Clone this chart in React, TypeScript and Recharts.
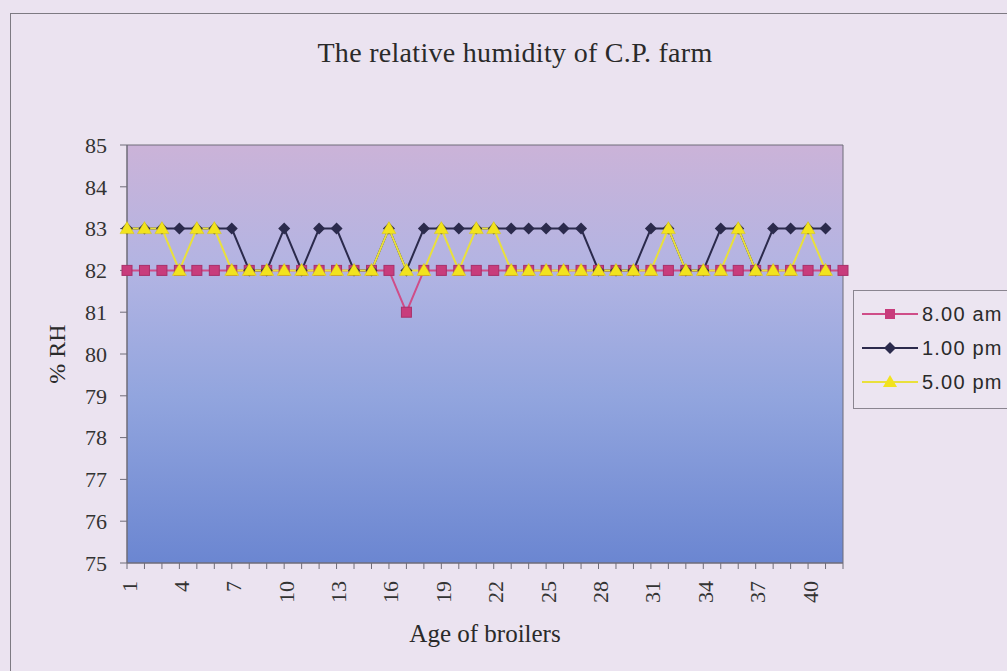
import { LineChart, Line, XAxis, YAxis, ReferenceArea, Legend, Label } from 'recharts'

// Age of broilers (days)
const days = [
  1, 2, 3, 4, 5, 6, 7, 8, 9, 10, 11, 12, 13, 14, 15, 16, 17, 18, 19, 20, 21,
  22, 23, 24, 25, 26, 27, 28, 29, 30, 31, 32, 33, 34, 35, 36, 37, 38, 39, 40, 41, 42,
]

// % RH readings
const am8 = [
  82, 82, 82, 82, 82, 82, 82, 82, 82, 82, 82, 82, 82, 82, 82, 82, 81, 82, 82, 82, 82,
  82, 82, 82, 82, 82, 82, 82, 82, 82, 82, 82, 82, 82, 82, 82, 82, 82, 82, 82, 82, 82,
]
const pm1 = [
  83, 83, 83, 83, 83, 83, 83, 82, 82, 83, 82, 83, 83, 82, 82, 83, 82, 83, 83, 83, 83,
  83, 83, 83, 83, 83, 83, 82, 82, 82, 83, 83, 82, 82, 83, 83, 82, 83, 83, 83, 83, null,
]
const pm5 = [
  83, 83, 83, 82, 83, 83, 82, 82, 82, 82, 82, 82, 82, 82, 82, 83, 82, 82, 83, 82, 83,
  83, 82, 82, 82, 82, 82, 82, 82, 82, 82, 83, 82, 82, 82, 83, 82, 82, 82, 83, 82, null,
]

const yTicks = [75, 76, 77, 78, 79, 80, 81, 82, 83, 84, 85]

const chartData = days.map((d, i) => ({ day: d, am8: am8[i], pm1: pm1[i], pm5: pm5[i] }))

const SERIF = '"Liberation Serif", "Times New Roman", serif'
const SANS = '"Liberation Sans", Arial, sans-serif'

const COLORS = {
  am8: '#c83c7c',
  am8Line: '#cf4d88',
  pm1: '#2b2a4c',
  pm5: '#f2e31e',
  pm5Line: '#e9e03c',
}

const SquareDot = (props: any) => {
  const { cx, cy, index } = props
  if (cx == null || cy == null) return <g key={`sq-${index}`} />
  return (
    <rect key={`sq-${index}`} x={cx - 5} y={cy - 5} width={10} height={10} fill={COLORS.am8} stroke="#a8306a" strokeWidth={1} />
  )
}

const DiamondDot = (props: any) => {
  const { cx, cy, index } = props
  if (cx == null || cy == null) return <g key={`di-${index}`} />
  return (
    <polygon
      key={`di-${index}`}
      points={`${cx},${cy - 6} ${cx + 6},${cy} ${cx},${cy + 6} ${cx - 6},${cy}`}
      fill={COLORS.pm1}
    />
  )
}

const TriangleDot = (props: any) => {
  const { cx, cy, index } = props
  if (cx == null || cy == null) return <g key={`tr-${index}`} />
  return (
    <polygon
      key={`tr-${index}`}
      points={`${cx},${cy - 7} ${cx + 7},${cy + 5} ${cx - 7},${cy + 5}`}
      fill={COLORS.pm5}
      stroke="#d4c410"
      strokeWidth={0.5}
    />
  )
}

const XTick = (props: any) => {
  const { x, y, payload, index } = props
  if (index % 3 !== 0) return <g />
  return (
    <text
      transform={`translate(${x + 2}, ${y + 10}) rotate(-90)`}
      textAnchor="end"
      dominantBaseline="central"
      fontFamily={SERIF}
      fontSize={22}
      fill="#333"
    >
      {payload.value}
    </text>
  )
}

const legendItems = [
  { label: '8.00 am', color: COLORS.am8Line, marker: 'square' },
  { label: '1.00 pm', color: COLORS.pm1, marker: 'diamond' },
  { label: '5.00 pm', color: COLORS.pm5Line, marker: 'triangle' },
]

const CustomLegend = () => (
  <div
    style={{
      border: '1px solid #8a8590',
      background: '#ece5f1',
      padding: '6px 0 0 0',
      height: 119,
      boxSizing: 'border-box',
    }}
  >
    {legendItems.map((item) => (
      <div key={item.label} style={{ display: 'flex', alignItems: 'center', height: 34 }}>
        <svg width={68} height={20} style={{ display: 'block' }}>
          <line x1={8} y1={10} x2={64} y2={10} stroke={item.color} strokeWidth={2} />
          {item.marker === 'square' && <rect x={31} y={5} width={10} height={10} fill={COLORS.am8} />}
          {item.marker === 'diamond' && <polygon points="36,4 42,10 36,16 30,10" fill={COLORS.pm1} />}
          {item.marker === 'triangle' && <polygon points="36,3 43,15 29,15" fill={COLORS.pm5} />}
        </svg>
        <span style={{ fontFamily: SANS, fontSize: 20, letterSpacing: 1.2, color: '#2a2a2a' }}>{item.label}</span>
      </div>
    ))}
  </div>
)

export default function App() {
  return (
    <div
      style={{
        position: 'absolute',
        left: 0,
        top: 0,
        width: 1007,
        height: 671,
        overflow: 'hidden',
        background: '#ebe3f0',
      }}
    >
      <div
        style={{
          position: 'absolute',
          left: 10,
          top: 13,
          width: 1100,
          height: 800,
          border: '1px solid #7d7a82',
        }}
      />
      <div
        style={{
          position: 'absolute',
          left: 0,
          top: 38,
          width: 1030,
          textAlign: 'center',
          fontFamily: SERIF,
          fontSize: 28,
          letterSpacing: 0.3,
          lineHeight: '30px',
          color: '#2a2a2a',
        }}
      >
        The relative humidity of C.P. farm
      </div>
      <div style={{ position: 'absolute', left: 0, top: 0 }}>
        <LineChart
          width={1007}
          height={671}
          data={chartData}
          margin={{ top: 145, right: 164, bottom: 0, left: 0 }}
        >
          <defs>
            <linearGradient id="plotBg" x1="0" y1="0" x2="0" y2="1">
              <stop offset="0%" stopColor="#cbb3d8" />
              <stop offset="30%" stopColor="#b2b4e3" />
              <stop offset="60%" stopColor="#92a5de" />
              <stop offset="100%" stopColor="#6b86d1" />
            </linearGradient>
          </defs>
          <ReferenceArea x1={1} x2={42} y1={75} y2={85} fill="url(#plotBg)" fillOpacity={1} stroke="#6f6c78" strokeWidth={1} />
          <XAxis
            dataKey="day"
            interval={0}
            height={108}
            tick={<XTick />}
            tickSize={6}
            axisLine={{ stroke: '#6f6c78' }}
            tickLine={{ stroke: '#6f6c78' }}
          >
            <Label
              content={(p: any) => (
                <text
                  x={p.viewBox.x + p.viewBox.width / 2}
                  y={p.viewBox.y + 70}
                  textAnchor="middle"
                  dominantBaseline="central"
                  fontFamily={SERIF}
                  fontSize={25}
                  fill="#2a2a2a"
                >
                  Age of broilers
                </text>
              )}
            />
          </XAxis>
          <YAxis
            width={127}
            domain={[75, 85]}
            ticks={yTicks}
            interval={0}
            tickSize={7}
            tickMargin={13}
            tick={{ fontFamily: SERIF, fontSize: 22, fill: '#333' }}
            axisLine={{ stroke: '#6f6c78' }}
            tickLine={{ stroke: '#6f6c78' }}
          >
            <Label
              content={(p: any) => {
                const cy = p.viewBox.y + p.viewBox.height / 2
                return (
                  <text
                    transform={`translate(57, ${cy}) rotate(-90)`}
                    textAnchor="middle"
                    dominantBaseline="central"
                    fontFamily={SERIF}
                    fontSize={24}
                    fill="#2a2a2a"
                  >
                    % RH
                  </text>
                )
              }}
            />
          </YAxis>
          <Legend
            layout="vertical"
            align="center"
            verticalAlign="middle"
            content={<CustomLegend />}
            wrapperStyle={{ position: 'absolute', left: 853, top: 290, width: 180 }}
          />
          <Line
            dataKey="am8"
            stroke={COLORS.am8Line}
            strokeWidth={2}
            dot={<SquareDot />}
            activeDot={false}
            isAnimationActive={false}
          />
          <Line
            dataKey="pm1"
            stroke={COLORS.pm1}
            strokeWidth={2}
            dot={<DiamondDot />}
            activeDot={false}
            isAnimationActive={false}
          />
          <Line
            dataKey="pm5"
            stroke={COLORS.pm5Line}
            strokeWidth={2}
            dot={<TriangleDot />}
            activeDot={false}
            isAnimationActive={false}
          />
        </LineChart>
      </div>
    </div>
  )
}
